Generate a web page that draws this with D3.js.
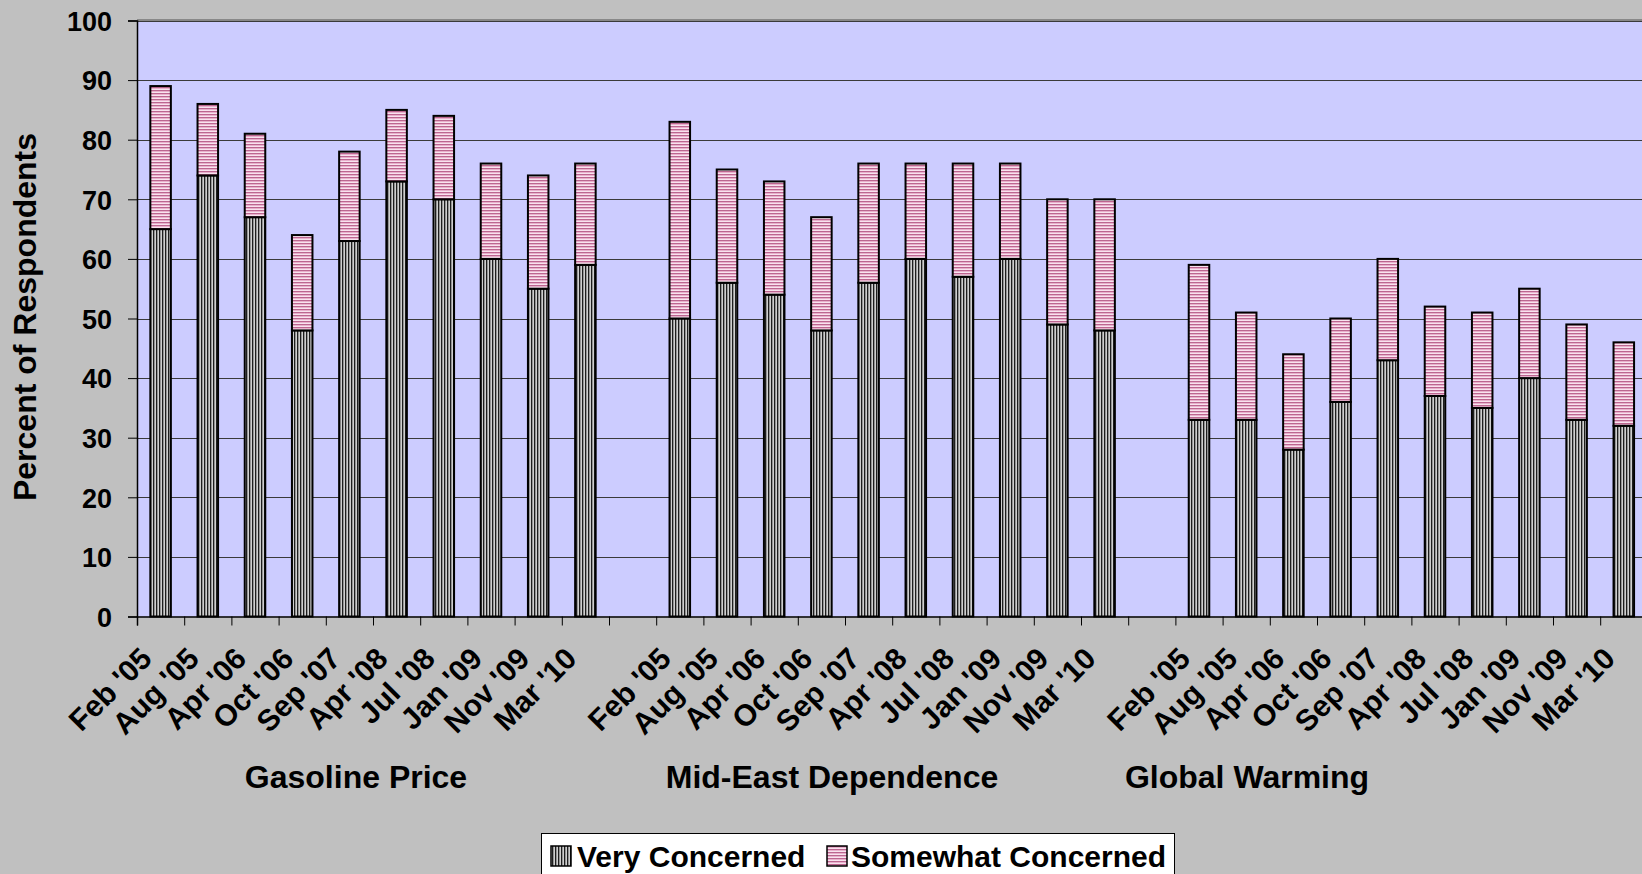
<!DOCTYPE html>
<html>
<head>
<meta charset="utf-8">
<script src="https://cdn.jsdelivr.net/npm/d3@7"></script>
<style>
  html, body { margin: 0; padding: 0; background: #c0c0c0; overflow: hidden; }
  svg { display: block; font-family: "Liberation Sans", Arial, sans-serif; font-weight: bold; }
</style>
</head>
<body>
<svg id="chart" width="1642" height="874"></svg>
<script>
// Survey dates (same set for every topic)
const surveyDates = ["Feb '05", "Aug '05", "Apr '06", "Oct '06", "Sep '07", "Apr '08", "Jul '08", "Jan '09", "Nov '09", "Mar '10"];
const topics = ["Gasoline Price", "Mid-East Dependence", "Global Warming"];

// Percent "Very Concerned" per topic
const gasolineVery   = [65, 74, 67, 48, 63, 73, 70, 60, 55, 59];
const mideastVery    = [50, 56, 54, 48, 56, 60, 57, 60, 49, 48];
const warmingVery    = [33, 33, 28, 36, 43, 37, 35, 40, 33, 32];

// Percent "Somewhat Concerned" per topic
const gasolineSomewhat = [24, 12, 14, 16, 15, 12, 14, 16, 19, 17];
const mideastSomewhat  = [33, 19, 19, 19, 20, 16, 19, 16, 21, 22];
const warmingSomewhat  = [26, 18, 16, 14, 17, 15, 16, 15, 16, 14];

const seriesNames = ["Very Concerned", "Somewhat Concerned"];
const yTicks = [0, 10, 20, 30, 40, 50, 60, 70, 80, 90, 100];

// Build slot list: three groups of ten dates, separated by one empty slot
const veryByTopic = [gasolineVery, mideastVery, warmingVery];
const somewhatByTopic = [gasolineSomewhat, mideastSomewhat, warmingSomewhat];
const slots = [];
const rows = [];
topics.forEach((t, ti) => {
  if (ti > 0) slots.push("gap" + ti);
  surveyDates.forEach((d, di) => {
    const key = t + "|" + d;
    slots.push(key);
    rows.push({ key, date: d, topic: ti, very: veryByTopic[ti][di], somewhat: somewhatByTopic[ti][di] });
  });
});

const svg = d3.select("#chart");
const plot = { left: 137, top: 20.5, bottom: 616.5 };
const slotW = 47.2;
plot.right = plot.left + slots.length * slotW;

const x = d3.scaleBand().domain(slots).range([plot.left, plot.right])
  .paddingInner(0.565).paddingOuter(0.2825);
const xIdx = d3.scaleLinear().domain([0, slots.length]).range([plot.left, plot.right]);
const y = d3.scaleLinear().domain([0, 100]).range([plot.bottom, plot.top]);

// Fill patterns
const defs = svg.append("defs");
const vp = defs.append("pattern").attr("id", "vstripe").attr("patternUnits", "userSpaceOnUse")
  .attr("width", 3).attr("height", 6);
vp.append("rect").attr("width", 3).attr("height", 6).attr("fill", "#959595");
vp.append("rect").attr("x", 0).attr("width", 1).attr("height", 6).attr("fill", "#1e1e1e");
vp.append("rect").attr("x", 2).attr("width", 1).attr("height", 6).attr("fill", "#cfcfcf");

const hp = defs.append("pattern").attr("id", "hstripe").attr("patternUnits", "userSpaceOnUse")
  .attr("width", 6).attr("height", 3);
hp.append("rect").attr("width", 6).attr("height", 3).attr("fill", "#e8b0cc");
hp.append("rect").attr("y", 0).attr("width", 6).attr("height", 1).attr("fill", "#bc6690");
hp.append("rect").attr("y", 2).attr("width", 6).attr("height", 1).attr("fill", "#f8e2ee");

const fills = ["url(#vstripe)", "url(#hstripe)"];

// Plot area background
svg.append("rect").attr("x", plot.left).attr("y", plot.top)
  .attr("width", plot.right - plot.left).attr("height", plot.bottom - plot.top)
  .attr("fill", "#ccccff");
svg.append("line").attr("x1", plot.left).attr("x2", plot.right)
  .attr("y1", plot.top - 0.5).attr("y2", plot.top - 0.5)
  .attr("stroke", "#888").attr("stroke-width", 2);

// Horizontal gridlines
svg.append("g").selectAll("line").data(yTicks.filter(v => v > 0)).join("line")
  .attr("x1", plot.left).attr("x2", plot.right)
  .attr("y1", d => Math.round(y(d)) + 0.5).attr("y2", d => Math.round(y(d)) + 0.5)
  .attr("stroke", "#3a3a3a").attr("stroke-width", 1);

// Stacked bars
const stack = d3.stack().keys(["very", "somewhat"]);
const stacked = stack(rows);
svg.append("g").selectAll("g").data(stacked).join("g")
  .attr("fill", (d, i) => fills[i])
  .selectAll("rect").data(d => d).join("rect")
  .attr("x", d => x(d.data.key))
  .attr("width", x.bandwidth())
  .attr("y", d => y(d[1]))
  .attr("height", d => y(d[0]) - y(d[1]))
  .attr("stroke", "#000").attr("stroke-width", 2);

// Y axis
const yAxis = svg.append("g").attr("transform", `translate(${plot.left},0)`)
  .call(d3.axisLeft(y).tickValues(yTicks).tickSize(9).tickPadding(16));
yAxis.select(".domain").attr("stroke", "#000").attr("stroke-width", 1.5);
yAxis.selectAll(".tick line").attr("stroke", "#000");
yAxis.selectAll(".tick text").attr("font-size", 27).attr("font-family", "Liberation Sans, Arial, sans-serif")
  .attr("font-weight", "bold").attr("fill", "#000").attr("dy", "0.36em");

// X axis: tick marks on slot boundaries
const xAxis = svg.append("g").attr("transform", `translate(0,${plot.bottom})`)
  .call(d3.axisBottom(xIdx).tickValues(d3.range(slots.length + 1)).tickSize(9).tickFormat(""));
xAxis.select(".domain").attr("stroke", "#000").attr("stroke-width", 1.5);
xAxis.selectAll(".tick line").attr("stroke", "#000");

// Rotated date labels
svg.append("g").selectAll("text").data(rows).join("text")
  .attr("transform", d => `translate(${x(d.key) + x.bandwidth() / 2 - 7},${plot.bottom + 44}) rotate(-45)`)
  .attr("text-anchor", "end")
  .attr("font-size", 30)
  .attr("fill", "#000")
  .text(d => d.date);

// Topic labels under each group
const topicCenters = [356, 832, 1247];
svg.append("g").selectAll("text").data(topics).join("text")
  .attr("x", (d, i) => topicCenters[i])
  .attr("y", 788)
  .attr("text-anchor", "middle")
  .attr("font-size", 32)
  .attr("fill", "#000")
  .text(d => d);

// Y axis title
svg.append("text")
  .attr("transform", `translate(36,317) rotate(-90)`)
  .attr("text-anchor", "middle")
  .attr("font-size", 32)
  .attr("fill", "#000")
  .text("Percent of Respondents");

// Legend
const legend = svg.append("g");
legend.append("rect").attr("x", 541.5).attr("y", 833.5).attr("width", 633).attr("height", 60)
  .attr("fill", "#fff").attr("stroke", "#000").attr("stroke-width", 1);
const legendItems = [{ name: seriesNames[0], sx: 551, tx: 577 }, { name: seriesNames[1], sx: 827, tx: 851 }];
legendItems.forEach((it, i) => {
  legend.append("rect").attr("x", it.sx).attr("y", 846).attr("width", 20).attr("height", 20)
    .attr("fill", fills[i]).attr("stroke", "#000").attr("stroke-width", 1.5);
  legend.append("text").attr("x", it.tx).attr("y", 867).attr("font-size", 30).attr("fill", "#000").text(it.name);
});
</script>
</body>
</html>
